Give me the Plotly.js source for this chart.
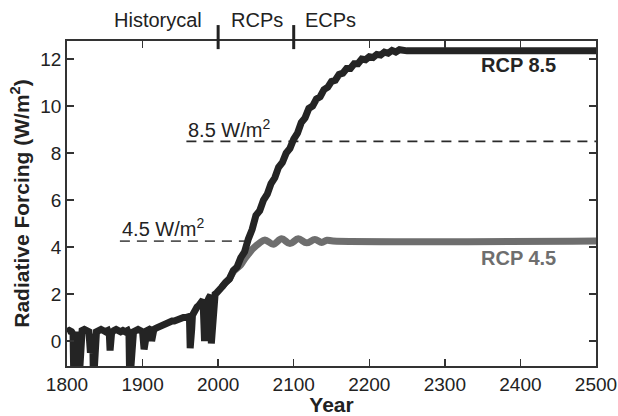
<!DOCTYPE html>
<html>
<head>
<meta charset="utf-8">
<script src="https://cdn.plot.ly/plotly-3.0.1.min.js"></script>
<style>html,body{margin:0;padding:0;background:#fff;}#chart{width:618px;height:416px;}</style>
</head>
<body>
<div id="chart"></div>
<script>
// Historical forcing (W/m2)
const histYears = [1800,1803,1806,1808,1809,1810,1811,1813,1815,1816,1817,1818,1820,1823,1826,1829,1831,1832,1834,1835,1836,1837,1839,1842,1845,1848,1851,1854,1856,1857,1858,1859,1862,1865,1868,1871,1874,1877,1880,1882,1883,1884,1885,1886,1888,1891,1894,1897,1900,1902,1903,1904,1906,1909,1911,1912,1913,1915,1918,1921,1924,1927,1930,1933,1936,1939,1942,1945,1948,1951,1954,1957,1960,1962,1963,1964,1965,1966,1968,1970,1972,1974,1976,1978,1980,1982,1983,1984,1986,1988,1990,1991,1992,1993,1994,1996,1998,2000,2003,2005];
const histVals  = [0.4,0.45,0.4,0.3,-1.6,-0.8,0.2,0.4,-2.2,-1.4,-0.2,0.35,0.45,0.5,0.45,0.4,-0.5,0.2,0.3,-1.8,-0.9,0.1,0.4,0.45,0.5,0.45,0.4,0.45,0.3,-0.4,0.0,0.35,0.45,0.5,0.45,0.4,0.45,0.4,0.45,0.3,-1.8,-1.0,-0.2,0.3,0.4,0.45,0.5,0.45,0.4,-0.35,-0.1,0.3,0.45,0.5,0.45,0.0,0.3,0.5,0.55,0.6,0.65,0.7,0.7,0.75,0.8,0.85,0.85,0.9,0.9,0.95,1.0,1.0,1.05,1.05,-0.3,-0.1,0.5,1.1,1.25,1.35,1.45,1.5,1.6,1.7,1.75,0.0,0.6,1.5,1.7,1.85,1.95,-0.1,0.3,1.2,1.8,2.0,2.05,2.1,2.2,2.3];

// RCP 8.5 scenario + extension
const rcp85Years = [2005,2010,2015,2020,2025,2030,2035,2040,2045,2050,2055,2060,2065,2070,2075,2080,2085,2090,2095,2100,2105,2110,2115,2120,2125,2130,2135,2140,2145,2150,2155,2160,2165,2170,2175,2180,2185,2190,2195,2200,2205,2210,2215,2220,2225,2230,2235,2240,2245,2250,2500];
const rcp85Vals  = [2.3,2.5,2.65,3.0,3.15,3.55,3.8,4.35,4.75,5.35,5.55,6.0,6.25,6.7,6.95,7.4,7.6,8.0,8.2,8.6,8.85,9.3,9.5,9.9,10.0,10.3,10.4,10.7,10.8,11.05,11.1,11.35,11.4,11.6,11.6,11.8,11.8,12.0,11.97,12.1,12.07,12.2,12.17,12.3,12.25,12.37,12.3,12.4,12.35,12.35,12.35];

// RCP 4.5 scenario + extension
const rcp45Years = [2005,2010,2015,2020,2025,2030,2035,2040,2045,2050,2055,2062,2073,2084,2095,2106,2117,2128,2137,2144,2152,2500];
const rcp45Vals  = [2.3,2.5,2.65,2.95,3.1,3.25,3.5,3.7,3.9,4.05,4.18,4.3,4.12,4.35,4.15,4.35,4.18,4.32,4.2,4.29,4.26,4.26];

// Reference levels (dashed) and period boundaries
const refLabels = ["8.5 W/m<sup>2</sup>", "4.5 W/m<sup>2</sup>"];
const refLevels = [8.5, 4.25];
const refStart  = [1958, 1870];
const refEnd    = [2500, 2040];
const periodBounds = [2000, 2100];
const periodNames  = ["Historycal", "RCPs", "ECPs"];
const periodCenters = [1920, 2051, 2149];
const xTicks = [1800,1900,2000,2100,2200,2300,2400,2500];
const yTicks = [0,2,4,6,8,10,12];

const FONT = "Liberation Sans, Arial, sans-serif";
const BLACK = "#242424", GRAY = "#6e6e6e";

const traces = [
  {x:[refStart[1], refEnd[1]], y:[refLevels[1], refLevels[1]], mode:"lines",
   line:{color:"#555", width:1.8, dash:"10px,7px"}, hoverinfo:"skip"},
  {x:[refStart[0], refEnd[0]], y:[refLevels[0], refLevels[0]], mode:"lines",
   line:{color:"#2a2a2a", width:1.8, dash:"10px,7px"}, hoverinfo:"skip"},
  {x:rcp45Years, y:rcp45Vals, mode:"lines", line:{color:GRAY, width:7, shape:"spline"}},
  {x:histYears.concat(rcp85Years), y:histVals.concat(rcp85Vals), mode:"lines",
   line:{color:BLACK, width:7, shape:"linear"}}
];

const annotations = [
  {x:refStart[0], y:9.05, xref:"x", yref:"y", text:refLabels[0], showarrow:false, xanchor:"left", yanchor:"middle", font:{family:FONT, size:20, color:"#222"}},
  {x:refStart[1], y:4.82, xref:"x", yref:"y", text:refLabels[1], showarrow:false, xanchor:"left", yanchor:"middle", font:{family:FONT, size:20, color:"#222"}},
  {x:2397, y:11.74, xref:"x", yref:"y", text:"<b>RCP 8.5</b>", showarrow:false, xanchor:"center", yanchor:"middle", font:{family:FONT, size:20, color:BLACK}},
  {x:2397, y:3.53, xref:"x", yref:"y", text:"<b>RCP 4.5</b>", showarrow:false, xanchor:"center", yanchor:"middle", font:{family:FONT, size:20, color:GRAY}}
];
periodNames.forEach((n,i)=>annotations.push({x:periodCenters[i], y:1.065, xref:"x", yref:"paper", text:n, showarrow:false, xanchor:"center", yanchor:"middle", font:{family:FONT, size:20, color:"#222"}}));

const shapes = periodBounds.map(b=>({type:"line", xref:"x", yref:"paper", x0:b, x1:b, y0:0.975, y1:1.049, line:{color:"#222", width:3}}));

const layout = {
  width:618, height:416,
  margin:{l:67, r:22, t:41, b:50},
  paper_bgcolor:"#fff", plot_bgcolor:"#fff",
  showlegend:false,
  xaxis:{range:[1800,2500], tickvals:xTicks, ticktext:xTicks.map(String), ticks:"inside", ticklen:7, tickwidth:1.5, tickcolor:"#333",
    showline:true, linecolor:"#333", linewidth:1.8, mirror:"ticks", showgrid:false, zeroline:false,
    tickfont:{family:FONT, size:19, color:"#222"},
    title:{text:"<b>Year</b>", font:{family:FONT, size:21, color:"#222"}, standoff:1}},
  yaxis:{range:[-1.06,12.77], tickvals:yTicks, ticktext:yTicks.map(String), ticks:"inside", ticklen:7, tickwidth:1.5, tickcolor:"#333",
    showline:true, linecolor:"#333", linewidth:1.8, mirror:"ticks", showgrid:false, zeroline:false,
    tickfont:{family:FONT, size:19, color:"#222"},
    title:{text:"<b>Radiative Forcing (W/m<sup>2</sup>)</b>", font:{family:FONT, size:21, color:"#222"}, standoff:5}},
  annotations:annotations,
  shapes:shapes
};

Plotly.newPlot("chart", traces, layout, {staticPlot:true, displayModeBar:false});
</script>
</body>
</html>
